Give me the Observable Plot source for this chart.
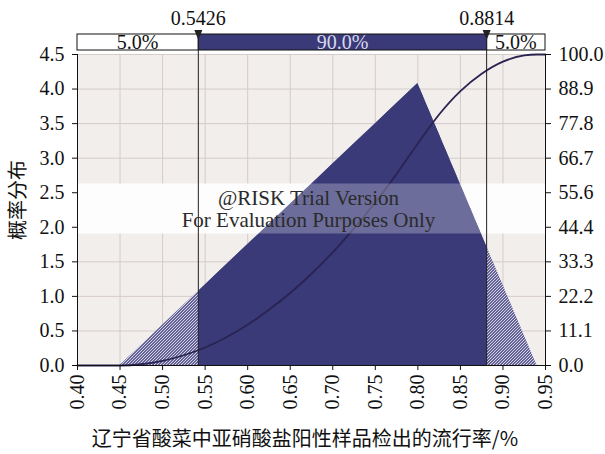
<!DOCTYPE html>
<html>
<head>
<meta charset="utf-8">
<script src="https://cdn.jsdelivr.net/npm/d3@7"></script>
<script src="https://cdn.jsdelivr.net/npm/@observablehq/plot@0.6"></script>
<style>
  body { margin: 0; background: #fff; }
  #chart svg { display: block; }
</style>
</head>
<body>
<svg width="0" height="0" style="position:absolute">
  <defs>
    <pattern id="hatch" patternUnits="userSpaceOnUse" width="3" height="3">
      <rect width="3" height="3" fill="#34346f"></rect>
      <path d="M-1,1 l2,-2 M0,3 l3,-3 M2,4 l2,-2" stroke="#dcdaf0" stroke-width="1.1"></path>
    </pattern>
  </defs>
</svg>
<div id="chart"></div>
<script>
// Axis ticks
const xTicks = [0.40, 0.45, 0.50, 0.55, 0.60, 0.65, 0.70, 0.75, 0.80, 0.85, 0.90, 0.95];
const yTicks = [0, 0.5, 1.0, 1.5, 2.0, 2.5, 3.0, 3.5, 4.0, 4.5];
const cumTickLabels = ["0.0", "11.1", "22.2", "33.3", "44.4", "55.6", "66.7", "77.8", "88.9", "100.0"];

// Triangular density outline (min 0.45, mode 0.80, max 0.94)
const densityX = [0.40, 0.45, 0.80, 0.94, 0.95];
const densityY = [0, 0, 4.08, 0, 0];

// Cumulative probability (%)
const cumX = [0.40, 0.45, 0.475, 0.50, 0.525, 0.55, 0.575, 0.60, 0.625, 0.65, 0.675, 0.70,
              0.725, 0.75, 0.775, 0.80, 0.825, 0.85, 0.875, 0.90, 0.925, 0.94, 0.95];
const cumPct = [0, 0, 0.4, 1.5, 3.3, 5.8, 9.1, 13.1, 17.9, 23.3, 29.5, 36.4,
                44.1, 52.5, 61.6, 71.4, 80.7, 88.2, 93.8, 97.7, 99.7, 100, 100];

// 5% / 95% cut points and band labels
const lowerCut = 0.5426;
const upperCut = 0.8814;
const cutLabels = ["0.5426", "0.8814"];
const bandLabels = ["5.0%", "90.0%", "5.0%"];

const xLabel = "辽宁省酸菜中亚硝酸盐阳性样品检出的流行率/%";
const yLabel = "概率分布";

const yMax = 4.5;
const navy = "#3a3a78";
const font = "'Liberation Serif', 'Noto Sans CJK SC', serif";
const cjkFont = "'Noto Sans CJK SC', 'Liberation Serif', sans-serif";

const density = densityX.map((x, i) => ({x, y: densityY[i]}));
const cumulative = cumX.map((x, i) => ({x, y: cumPct[i] / 100 * yMax}));

const plot = Plot.plot({
  width: 605,
  height: 454,
  marginLeft: 77,
  marginRight: 60,
  marginTop: 54,
  marginBottom: 89,
  style: {fontFamily: font, fontSize: "20px", color: "#111", background: "#fff"},
  x: {domain: [0.40, 0.95]},
  y: {domain: [0, yMax]},
  marks: [
    Plot.frame({fill: "#f1eeec", stroke: "none"}),
    Plot.gridX(xTicks, {stroke: "#d5cbc9", strokeOpacity: 1}),
    Plot.gridY(yTicks, {stroke: "#d5cbc9", strokeOpacity: 1}),
    // watermark band behind the distribution
    Plot.frame({fill: "#fcfcfc", stroke: "none", insetTop: 129, insetBottom: 132}),
    // hatched tails (full triangle), then the solid central part (clipped below)
    Plot.areaY(density, {x: "x", y: "y", fill: "url(#hatch)"}),
    Plot.areaY(density, {x: "x", y: "y", fill: navy}),
    Plot.line(cumulative, {x: "x", y: "y", stroke: "#2a2352", strokeWidth: 1.8, curve: "monotone-x"}),
    // watermark band over the distribution
    Plot.frame({fill: "#ffffff", fillOpacity: 0.26, stroke: "none", insetTop: 129, insetBottom: 132}),
    Plot.text(["@RISK Trial Version\nFor Evaluation Purposes Only"], {
      frameAnchor: "middle", dx: -3, dy: -1.5, lineHeight: 1.05, fill: "#2a2a2a", fontSize: 21
    }),
    Plot.ruleY([0], {stroke: "#111"}),
    Plot.ruleX([0.40, 0.95], {stroke: "#111"}),
    Plot.axisX(xTicks, {
      tickFormat: d3.format(".2f"), tickRotate: -90, tickSize: 5, tickPadding: 4, label: null
    }),
    Plot.axisY(yTicks, {
      anchor: "left", tickFormat: d3.format(".1f"), tickSize: 5, tickPadding: 8, label: null
    }),
    Plot.axisY(yTicks, {
      anchor: "right", tickFormat: (d, i) => cumTickLabels[i], tickSize: 5, tickPadding: 8,
      label: null
    })
  ]
});

document.getElementById("chart").appendChild(plot);

const svg = d3.select(plot);
const sx = plot.scale("x");
const sy = plot.scale("y");
const X = v => sx.apply(v);
const Y = v => sy.apply(v);

// clip the solid fill to the central 90% interval
const defs = svg.insert("defs", ":first-child");
defs.append("clipPath").attr("id", "central-clip")
  .append("rect")
  .attr("x", X(lowerCut)).attr("y", 0)
  .attr("width", X(upperCut) - X(lowerCut)).attr("height", 454);
const areas = svg.selectAll("g[aria-label='area']").nodes();
d3.select(areas[areas.length - 1]).attr("clip-path", "url(#central-clip)");

// axis titles
svg.append("text")
  .attr("x", 305).attr("y", 446)
  .attr("text-anchor", "middle")
  .attr("font-family", cjkFont).attr("font-size", 20).attr("fill", "#111")
  .text(xLabel);
svg.append("text")
  .attr("transform", "translate(25,200) rotate(-90)")
  .attr("text-anchor", "middle")
  .attr("font-family", cjkFont).attr("font-size", 20).attr("fill", "#111")
  .text(yLabel);

// percentile bar above the plot
const barTop = 34, barBottom = 50;
const edges = [0.40, lowerCut, upperCut, 0.95];
const headerBar = svg.append("g").attr("font-family", font).attr("font-size", 20);
for (let i = 0; i < 3; i++) {
  headerBar.append("rect")
    .attr("x", X(edges[i])).attr("y", barTop)
    .attr("width", X(edges[i + 1]) - X(edges[i])).attr("height", barBottom - barTop)
    .attr("fill", i === 1 ? navy : "#fff")
    .attr("stroke", "#111").attr("stroke-width", 1);
  headerBar.append("text")
    .attr("x", (X(edges[i]) + X(edges[i + 1])) / 2).attr("y", barBottom - 1)
    .attr("text-anchor", "middle")
    .attr("fill", i === 1 ? "#d8d8ea" : "#111")
    .text(bandLabels[i]);
}
[lowerCut, upperCut].forEach((v, i) => {
  const x = X(v);
  headerBar.append("line")
    .attr("x1", x).attr("x2", x).attr("y1", barTop).attr("y2", Y(0))
    .attr("stroke", "#222").attr("stroke-width", 1);
  headerBar.append("path")
    .attr("d", `M${x - 4},${barTop - 4}L${x + 4},${barTop - 4}L${x},${barTop + 6}Z`)
    .attr("fill", "#222");
  headerBar.append("text")
    .attr("x", x).attr("y", 25)
    .attr("text-anchor", "middle").attr("fill", "#111")
    .text(cutLabels[i]);
});
</script>
</body>
</html>
